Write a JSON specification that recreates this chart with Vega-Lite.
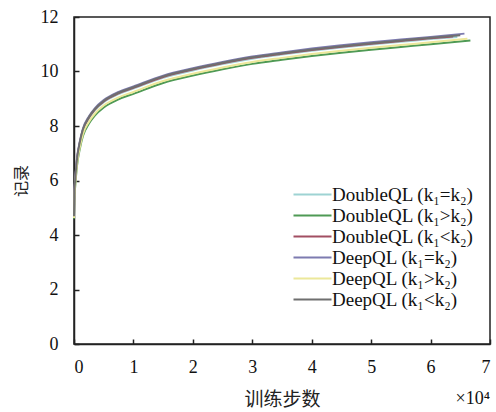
{
  "$schema": "https://vega.github.io/schema/vega-lite/v6.json",
  "width": 416,
  "height": 327,
  "autosize": {"type": "none"},
  "padding": {"left": 74, "top": 17, "right": 6, "bottom": 68},
  "background": "white",
  "config": {
    "view": {"stroke": "#222", "strokeWidth": 1.5},
    "axis": {
      "labelFont": "Liberation Serif",
      "labelFontSize": 18,
      "labelColor": "#111",
      "titleFont": "Noto Sans CJK SC",
      "titleFontSize": 16,
      "titleFontWeight": "normal",
      "titleColor": "#222",
      "domainColor": "#222",
      "domainWidth": 1.5,
      "tickColor": "#222",
      "tickWidth": 1.5,
      "tickSize": -5,
      "grid": false
    }
  },
  "layer": [
    {
      "data": {
        "values": [
          {"x": 0, "DoubleQL (k₁=k₂)": 4.66, "DoubleQL (k₁>k₂)": 4.60, "DoubleQL (k₁<k₂)": 4.68, "DeepQL (k₁=k₂)": 4.70, "DeepQL (k₁>k₂)": 4.62, "DeepQL (k₁<k₂)": 4.69},
          {"x": 0.005, "DoubleQL (k₁=k₂)": 5.42, "DoubleQL (k₁>k₂)": 5.25, "DoubleQL (k₁<k₂)": 5.45, "DeepQL (k₁=k₂)": 5.50, "DeepQL (k₁>k₂)": 5.32, "DeepQL (k₁<k₂)": 5.47},
          {"x": 0.02, "DoubleQL (k₁=k₂)": 5.97, "DoubleQL (k₁>k₂)": 5.78, "DoubleQL (k₁<k₂)": 6.00, "DeepQL (k₁=k₂)": 6.05, "DeepQL (k₁>k₂)": 5.85, "DeepQL (k₁<k₂)": 6.02},
          {"x": 0.05, "DoubleQL (k₁=k₂)": 6.72, "DoubleQL (k₁>k₂)": 6.53, "DoubleQL (k₁<k₂)": 6.75, "DeepQL (k₁=k₂)": 6.80, "DeepQL (k₁>k₂)": 6.60, "DeepQL (k₁<k₂)": 6.77},
          {"x": 0.1, "DoubleQL (k₁=k₂)": 7.37, "DoubleQL (k₁>k₂)": 7.18, "DoubleQL (k₁<k₂)": 7.40, "DeepQL (k₁=k₂)": 7.45, "DeepQL (k₁>k₂)": 7.25, "DeepQL (k₁<k₂)": 7.42},
          {"x": 0.15, "DoubleQL (k₁=k₂)": 7.82, "DoubleQL (k₁>k₂)": 7.63, "DoubleQL (k₁<k₂)": 7.85, "DeepQL (k₁=k₂)": 7.90, "DeepQL (k₁>k₂)": 7.70, "DeepQL (k₁<k₂)": 7.87},
          {"x": 0.25, "DoubleQL (k₁=k₂)": 8.27, "DoubleQL (k₁>k₂)": 8.08, "DoubleQL (k₁<k₂)": 8.30, "DeepQL (k₁=k₂)": 8.35, "DeepQL (k₁>k₂)": 8.15, "DeepQL (k₁<k₂)": 8.32},
          {"x": 0.35, "DoubleQL (k₁=k₂)": 8.57, "DoubleQL (k₁>k₂)": 8.38, "DoubleQL (k₁<k₂)": 8.60, "DeepQL (k₁=k₂)": 8.65, "DeepQL (k₁>k₂)": 8.45, "DeepQL (k₁<k₂)": 8.62},
          {"x": 0.5, "DoubleQL (k₁=k₂)": 8.87, "DoubleQL (k₁>k₂)": 8.68, "DoubleQL (k₁<k₂)": 8.90, "DeepQL (k₁=k₂)": 8.95, "DeepQL (k₁>k₂)": 8.75, "DeepQL (k₁<k₂)": 8.92},
          {"x": 0.75, "DoubleQL (k₁=k₂)": 9.17, "DoubleQL (k₁>k₂)": 8.98, "DoubleQL (k₁<k₂)": 9.20, "DeepQL (k₁=k₂)": 9.25, "DeepQL (k₁>k₂)": 9.05, "DeepQL (k₁<k₂)": 9.22},
          {"x": 1.0, "DoubleQL (k₁=k₂)": 9.37, "DoubleQL (k₁>k₂)": 9.18, "DoubleQL (k₁<k₂)": 9.40, "DeepQL (k₁=k₂)": 9.45, "DeepQL (k₁>k₂)": 9.25, "DeepQL (k₁<k₂)": 9.42},
          {"x": 1.5, "DoubleQL (k₁=k₂)": 9.77, "DoubleQL (k₁>k₂)": 9.58, "DoubleQL (k₁<k₂)": 9.80, "DeepQL (k₁=k₂)": 9.85, "DeepQL (k₁>k₂)": 9.65, "DeepQL (k₁<k₂)": 9.82},
          {"x": 2.0, "DoubleQL (k₁=k₂)": 10.04, "DoubleQL (k₁>k₂)": 9.85, "DoubleQL (k₁<k₂)": 10.07, "DeepQL (k₁=k₂)": 10.12, "DeepQL (k₁>k₂)": 9.92, "DeepQL (k₁<k₂)": 10.09},
          {"x": 2.5, "DoubleQL (k₁=k₂)": 10.27, "DoubleQL (k₁>k₂)": 10.08, "DoubleQL (k₁<k₂)": 10.30, "DeepQL (k₁=k₂)": 10.35, "DeepQL (k₁>k₂)": 10.15, "DeepQL (k₁<k₂)": 10.32},
          {"x": 3.0, "DoubleQL (k₁=k₂)": 10.47, "DoubleQL (k₁>k₂)": 10.28, "DoubleQL (k₁<k₂)": 10.50, "DeepQL (k₁=k₂)": 10.55, "DeepQL (k₁>k₂)": 10.35, "DeepQL (k₁<k₂)": 10.52},
          {"x": 3.5, "DoubleQL (k₁=k₂)": 10.62, "DoubleQL (k₁>k₂)": 10.43, "DoubleQL (k₁<k₂)": 10.65, "DeepQL (k₁=k₂)": 10.70, "DeepQL (k₁>k₂)": 10.50, "DeepQL (k₁<k₂)": 10.67},
          {"x": 4.0, "DoubleQL (k₁=k₂)": 10.76, "DoubleQL (k₁>k₂)": 10.57, "DoubleQL (k₁<k₂)": 10.79, "DeepQL (k₁=k₂)": 10.84, "DeepQL (k₁>k₂)": 10.64, "DeepQL (k₁<k₂)": 10.81},
          {"x": 4.5, "DoubleQL (k₁=k₂)": 10.88, "DoubleQL (k₁>k₂)": 10.69, "DoubleQL (k₁<k₂)": 10.91, "DeepQL (k₁=k₂)": 10.96, "DeepQL (k₁>k₂)": 10.76, "DeepQL (k₁<k₂)": 10.93},
          {"x": 5.0, "DoubleQL (k₁=k₂)": 10.99, "DoubleQL (k₁>k₂)": 10.80, "DoubleQL (k₁<k₂)": 11.02, "DeepQL (k₁=k₂)": 11.07, "DeepQL (k₁>k₂)": 10.87, "DeepQL (k₁<k₂)": 11.04},
          {"x": 5.5, "DoubleQL (k₁=k₂)": 11.09, "DoubleQL (k₁>k₂)": 10.90, "DoubleQL (k₁<k₂)": 11.12, "DeepQL (k₁=k₂)": 11.17, "DeepQL (k₁>k₂)": 10.97, "DeepQL (k₁<k₂)": 11.14},
          {"x": 6.0, "DoubleQL (k₁=k₂)": 11.19, "DoubleQL (k₁>k₂)": 11.00, "DoubleQL (k₁<k₂)": 11.22, "DeepQL (k₁=k₂)": 11.27, "DeepQL (k₁>k₂)": 11.07, "DeepQL (k₁<k₂)": 11.24},
          {"x": 6.38, "DoubleQL (k₁<k₂)": 11.28},
          {"x": 6.45, "DoubleQL (k₁=k₂)": 11.27},
          {"x": 6.5, "DeepQL (k₁<k₂)": 11.33},
          {"x": 6.57, "DeepQL (k₁=k₂)": 11.39},
          {"x": 6.62, "DeepQL (k₁>k₂)": 11.20},
          {"x": 6.67, "DoubleQL (k₁>k₂)": 11.14}
        ]
      },
      "transform": [
        {"fold": ["DoubleQL (k₁=k₂)", "DoubleQL (k₁>k₂)", "DoubleQL (k₁<k₂)", "DeepQL (k₁=k₂)", "DeepQL (k₁>k₂)", "DeepQL (k₁<k₂)"], "as": ["series", "value"]},
        {"filter": "isValid(datum.value)"}
      ],
      "mark": {"type": "line", "strokeWidth": 2, "interpolate": "monotone"},
      "encoding": {
        "x": {
          "field": "x", "type": "quantitative",
          "scale": {"domain": [0, 7], "nice": false},
          "axis": {"values": [0, 1, 2, 3, 4, 5, 6, 7], "format": "d", "title": "训练步数", "titleFontSize": 19, "labelFont": "Liberation Serif", "labelFontSize": 18, "labelPadding": 19, "titlePadding": 14}
        },
        "y": {
          "field": "value", "type": "quantitative",
          "scale": {"domain": [0, 12], "nice": false},
          "axis": {"values": [0, 2, 4, 6, 8, 10, 12], "format": "d", "title": "记录", "titleFontSize": 16, "labelFont": "Liberation Serif", "labelFontSize": 18, "labelPadding": 21, "titlePadding": 11}
        },
        "color": {
          "field": "series", "type": "nominal", "sort": null,
          "scale": {
            "domain": ["DoubleQL (k₁=k₂)", "DoubleQL (k₁>k₂)", "DoubleQL (k₁<k₂)", "DeepQL (k₁=k₂)", "DeepQL (k₁>k₂)", "DeepQL (k₁<k₂)"],
            "range": ["#9ed3d3", "#4f9a55", "#a24e62", "#7d7bb0", "#ece89a", "#6f6f6f"]
          },
          "legend": {
            "title": null,
            "orient": "none",
            "legendX": 228,
            "legendY": 167,
            "symbolType": "M-2,0H2",
            "symbolSize": 361,
            "symbolStrokeWidth": 2,
            "labelFont": "Liberation Serif",
            "labelFontSize": 19,
            "labelColor": "#111",
            "labelOffset": 9,
            "rowPadding": 0
          }
        }
      }
    },
    {
      "data": {"values": [{"t": "×10⁴"}]},
      "mark": {"type": "text", "align": "right", "baseline": "alphabetic", "dy": 60, "font": "Liberation Serif", "fontSize": 18, "color": "#111"},
      "encoding": {
        "x": {"datum": 7, "type": "quantitative"},
        "y": {"datum": 0, "type": "quantitative"},
        "text": {"field": "t"}
      }
    }
  ]
}
